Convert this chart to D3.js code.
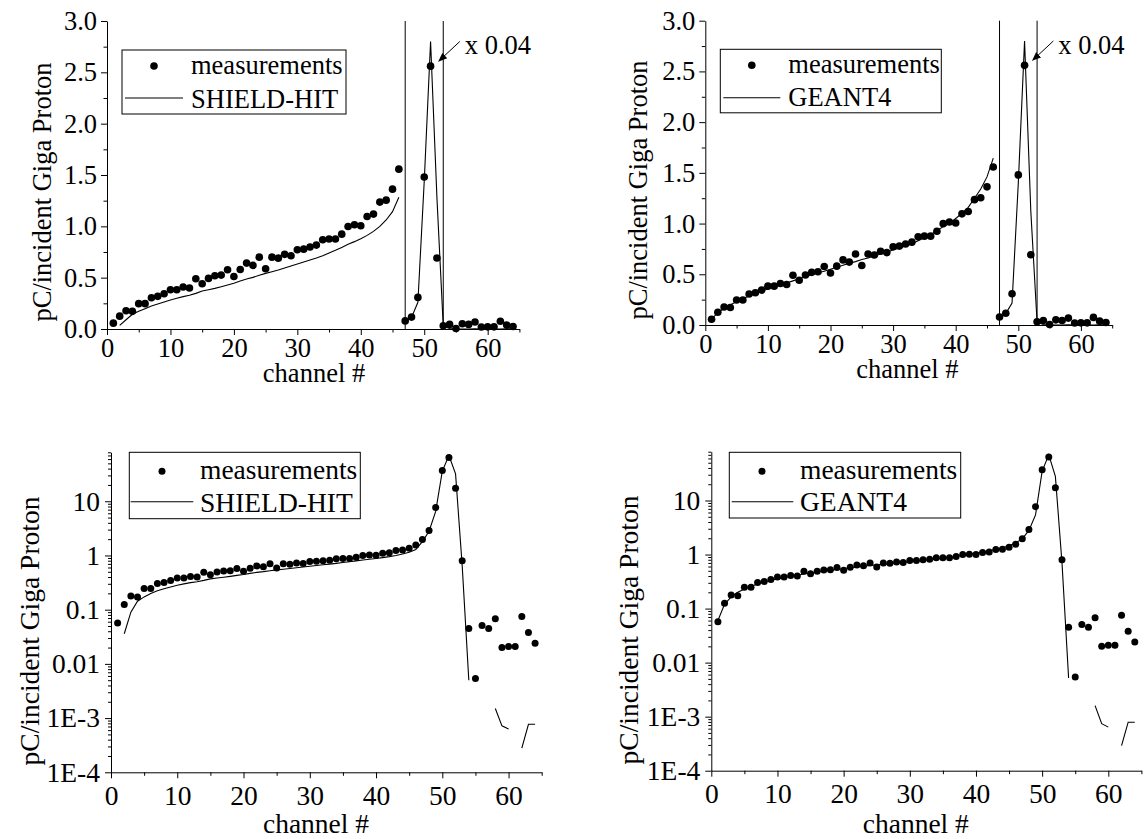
<!DOCTYPE html>
<html>
<head>
<meta charset="utf-8">
<script src="https://cdn.jsdelivr.net/npm/d3@7"></script>
<style>
  body { margin: 0; background: #fff; }
  svg text { font-family: "Liberation Serif", "Times New Roman", serif; fill: #000; }
</style>
</head>
<body>
<svg id="fig" width="1147" height="839"></svg>
<script>
// ---- data: ionisation-chamber channels 1..64 ----
const channels = d3.range(1, 65);

const measurements = [
  0.057, 0.125, 0.178, 0.172, 0.247, 0.247, 0.305, 0.318, 0.344, 0.383,
  0.383, 0.409, 0.399, 0.490, 0.441, 0.493, 0.519, 0.525, 0.577, 0.512,
  0.580, 0.642, 0.620, 0.700, 0.587, 0.700, 0.690, 0.727, 0.714, 0.772,
  0.778, 0.798, 0.817, 0.869, 0.876, 0.876, 0.924, 0.999, 1.015, 1.005,
  1.096, 1.119, 1.236, 1.255, 1.362, 1.557, 1.97, 2.9, 7.7, 37,
  64, 17.3, 0.8, 0.045, 0.0054, 0.051, 0.045, 0.068, 0.020, 0.021,
  0.021, 0.075, 0.038, 0.024
];

const shieldHit = [
  null, 0.036, 0.090, 0.143, 0.172, 0.198, 0.224, 0.243, 0.263, 0.282,
  0.299, 0.315, 0.328, 0.347, 0.370, 0.383, 0.396, 0.412, 0.429, 0.445,
  0.468, 0.487, 0.503, 0.523, 0.542, 0.558, 0.575, 0.594, 0.614, 0.633,
  0.653, 0.672, 0.692, 0.714, 0.740, 0.766, 0.795, 0.825, 0.851, 0.880,
  0.912, 0.951, 1.000, 1.062, 1.143, 1.283, 1.8, 2.8, 6.5, 36,
  70, 32, 0.65, 0.005, null, null, null, 0.0015, 0.00072, 0.00063,
  null, 0.00028, 0.00077, 0.00077
];

const geant4 = [
  0.060, 0.120, 0.165, 0.200, 0.230, 0.260, 0.285, 0.310, 0.335, 0.355,
  0.375, 0.395, 0.415, 0.435, 0.455, 0.475, 0.495, 0.515, 0.530, 0.550,
  0.570, 0.590, 0.610, 0.625, 0.645, 0.660, 0.680, 0.700, 0.720, 0.740,
  0.760, 0.780, 0.800, 0.830, 0.860, 0.890, 0.930, 0.970, 1.000, 1.050,
  1.100, 1.160, 1.250, 1.340, 1.460, 1.645, 1.95, 2.8, 5.4, 35,
  70, 28, 0.7, 0.0052, null, null, null, 0.0016, 0.00074, 0.00064,
  null, 0.00029, 0.00079, 0.00079
];

// channels drawn reduced by peakScale on the linear panels
const peakRange = [47, 53];
const peakScale = 0.04;
const peakLabel = "x 0.04";

const channelTicks = [0, 10, 20, 30, 40, 50, 60];
const channelMinorTicks = [5, 15, 25, 35, 45, 55, 65];
const linearTicks = [0, 0.5, 1.0, 1.5, 2.0, 2.5, 3.0];
const linearMinorTicks = [0.25, 0.75, 1.25, 1.75, 2.25, 2.75];
const logTicks = [1e-4, 1e-3, 0.01, 0.1, 1, 10];
const logTickLabels = ["1E-4", "1E-3", "0.01", "0.1", "1", "10"];

const yTitle = "pC/incident Giga Proton";
const xTitle = "channel #";
const legendData = "measurements";

// ---- drawing ----
const svg = d3.select("#fig");

svg.append("defs").append("marker")
  .attr("id", "arrowhead")
  .attr("viewBox", "0 0 10 10")
  .attr("refX", 9).attr("refY", 5)
  .attr("markerWidth", 9).attr("markerHeight", 9)
  .attr("markerUnits", "userSpaceOnUse")
  .attr("orient", "auto")
  .append("path").attr("d", "M0,1 L10,5 L0,9 Z").attr("fill", "#000");

function inPeak(ch) { return ch >= peakRange[0] && ch <= peakRange[1]; }

function drawPanel(cfg) {
  const g = svg.append("g");
  const fs = cfg.fontSize;

  const x = d3.scaleLinear().domain([0, 65]).range([cfg.left, cfg.right]);
  const y = cfg.log
    ? d3.scaleLog().domain([1e-4, 80]).range([cfg.bottom, cfg.top])
    : d3.scaleLinear().domain([0, 3]).range([cfg.bottom, cfg.top]);

  // axes
  const xAxis = d3.axisBottom(x).tickValues(channelTicks).tickFormat(d3.format("d"))
    .tickSize(6).tickSizeOuter(0).tickPadding(cfg.xPad);
  const xMinor = d3.axisBottom(x).tickValues(channelMinorTicks).tickFormat("")
    .tickSize(3.5).tickSizeOuter(0);
  let yAxis, yMinor;
  if (cfg.log) {
    const minor = [];
    for (let k = -4; k <= 1; k++) for (let m = 2; m <= 9; m++) {
      const v = m * Math.pow(10, k);
      if (v <= 80) minor.push(v);
    }
    yAxis = d3.axisLeft(y).tickValues(logTicks).tickFormat((d, i) => logTickLabels[i]);
    yMinor = d3.axisLeft(y).tickValues(minor).tickFormat("").tickSize(3).tickSizeOuter(0);
  } else {
    yAxis = d3.axisLeft(y).tickValues(linearTicks).tickFormat(d3.format(".1f"));
    yMinor = d3.axisLeft(y).tickValues(linearMinorTicks).tickFormat("").tickSize(3.5).tickSizeOuter(0);
  }
  yAxis.tickSize(6).tickSizeOuter(0).tickPadding(cfg.yPad);

  const styleAxis = sel => {
    sel.selectAll("path, line").attr("stroke", "#000").attr("stroke-width", 1);
    sel.selectAll("text").attr("font-size", fs).attr("fill", "#000")
      .attr("font-family", '"Liberation Serif", "Times New Roman", serif');
  };
  g.append("g").attr("transform", `translate(0,${cfg.bottom})`).call(xMinor).call(styleAxis)
    .select(".domain").remove();
  g.append("g").attr("transform", `translate(0,${cfg.bottom})`).call(xAxis).call(styleAxis);
  g.append("g").attr("transform", `translate(${cfg.left},0)`).call(yMinor).call(styleAxis)
    .select(".domain").remove();
  g.append("g").attr("transform", `translate(${cfg.left},0)`).call(yAxis).call(styleAxis);

  // axis titles
  g.append("text")
    .attr("x", cfg.left + cfg.xTitleOffset).attr("y", cfg.xTitleY)
    .attr("text-anchor", "middle").attr("font-size", fs).text(xTitle);
  g.append("text")
    .attr("transform", `translate(${cfg.yTitleX},${cfg.yTitleY}) rotate(-90)`)
    .attr("text-anchor", "middle").attr("font-size", fs).text(yTitle);

  const model = cfg.model;
  const pts = channels.map((ch, i) => ({ ch, m: measurements[i], s: model[i] }));

  if (cfg.log) {
    const line = d3.line().defined(d => d.s != null && d.s > 0)
      .x(d => x(d.ch)).y(d => y(d.s));
    g.append("path").datum(pts).attr("d", line)
      .attr("fill", "none").attr("stroke", "#000").attr("stroke-width", 1.1);
    g.selectAll("circle.meas").data(pts).join("circle").attr("class", "meas")
      .attr("cx", d => x(d.ch)).attr("cy", d => y(d.m)).attr("r", cfg.r).attr("fill", "#000");
  } else {
    // peak channels are reduced by peakScale; the model curve breaks where the scaling starts
    const lin = pts.map(d => ({
      ch: d.ch,
      m: inPeak(d.ch) ? d.m * peakScale : d.m,
      s: d.s == null ? (d.ch > peakRange[1] ? 0 : null) : (inPeak(d.ch) ? d.s * peakScale : d.s)
    }));
    const pre = lin.filter(d => d.ch < peakRange[0]);
    const post = lin.filter(d => d.ch >= peakRange[0]);
    const line = d3.line().defined(d => d.s != null).x(d => x(d.ch)).y(d => y(d.s));
    [pre, post].forEach(seg => g.append("path").datum(seg).attr("d", line)
      .attr("fill", "none").attr("stroke", "#000").attr("stroke-width", 1.1));

    // boundaries of the scaled region
    peakRange.forEach(ch => g.append("line")
      .attr("x1", x(ch)).attr("x2", x(ch)).attr("y1", y(0)).attr("y2", y(3))
      .attr("stroke", "#000").attr("stroke-width", 1));

    g.selectAll("circle.meas").data(lin).join("circle").attr("class", "meas")
      .attr("cx", d => x(d.ch)).attr("cy", d => y(d.m)).attr("r", cfg.r).attr("fill", "#000");

    // scale annotation
    g.append("line")
      .attr("x1", x(55.6)).attr("y1", y(2.80)).attr("x2", x(52.3)).attr("y2", y(2.61))
      .attr("stroke", "#000").attr("stroke-width", 1).attr("marker-end", "url(#arrowhead)");
    g.append("text").attr("x", x(56.4)).attr("y", y(2.675))
      .attr("font-size", fs).text(peakLabel);
  }

  // legend
  const L = cfg.legend;
  const lg = g.append("g").attr("transform", `translate(${L.x},${L.y})`);
  lg.append("rect").attr("width", L.w).attr("height", L.h)
    .attr("fill", "#fff").attr("stroke", "#000").attr("stroke-width", 1);
  lg.append("circle").attr("cx", L.markX).attr("cy", L.row1 - 8).attr("r", cfg.r).attr("fill", "#000");
  lg.append("text").attr("x", L.textX).attr("y", L.row1).attr("font-size", fs).text(legendData);
  lg.append("line").attr("x1", L.line[0]).attr("x2", L.line[1])
    .attr("y1", L.lineY).attr("y2", L.lineY).attr("stroke", "#000").attr("stroke-width", 1.1);
  lg.append("text").attr("x", L.textX).attr("y", L.row2).attr("font-size", fs).text(cfg.modelName);
}

drawPanel({
  left: 107, right: 519.4, top: 21, bottom: 329, log: false, fontSize: 26.5, r: 3.8,
  xPad: 3, yPad: 4, xTitleOffset: 207, xTitleY: 382, yTitleX: 51, yTitleY: 192,
  model: shieldHit, modelName: "SHIELD-HIT",
  legend: { x: 122, y: 50, w: 224, h: 64, markX: 32, textX: 69, row1: 24, line: [3, 61], lineY: 48, row2: 58 }
});
drawPanel({
  left: 705.3, right: 1112.2, top: 20.7, bottom: 325, log: false, fontSize: 26.5, r: 3.8,
  xPad: 3, yPad: 4, xTitleOffset: 202, xTitleY: 378, yTitleX: 647, yTitleY: 190,
  model: geant4, modelName: "GEANT4",
  legend: { x: 720.3, y: 49.3, w: 221, h: 63.5, markX: 31.5, textX: 68, row1: 24, line: [3, 60], lineY: 48.4, row2: 57 }
});
drawPanel({
  left: 111, right: 541.7, top: 452.3, bottom: 772.3, log: true, fontSize: 27.5, r: 3.5,
  xPad: 7, yPad: 5, xTitleOffset: 205, xTitleY: 833, yTitleX: 39, yTitleY: 631,
  model: shieldHit, modelName: "SHIELD-HIT",
  legend: { x: 129.3, y: 452.3, w: 231, h: 66.4, markX: 32.7, textX: 70.7, row1: 27, line: [1.4, 64], lineY: 49.4, row2: 59.4 }
});
drawPanel({
  left: 711.3, right: 1141.4, top: 451.7, bottom: 770.7, log: true, fontSize: 27.5, r: 3.5,
  xPad: 7, yPad: 5, xTitleOffset: 204.5, xTitleY: 833, yTitleX: 638.4, yTitleY: 630,
  model: geant4, modelName: "GEANT4",
  legend: { x: 729.3, y: 452.3, w: 231.4, h: 65.7, markX: 32.7, textX: 70.7, row1: 27, line: [2.4, 64], lineY: 49.4, row2: 59 }
});
</script>
</body>
</html>
